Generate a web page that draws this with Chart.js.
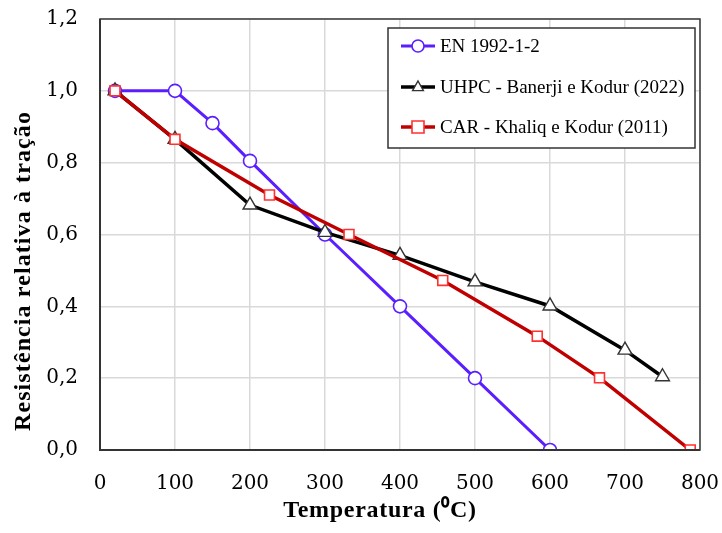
<!DOCTYPE html>
<html><head><meta charset="utf-8">
<script src="https://cdn.jsdelivr.net/npm/chart.js@4.4.1/dist/chart.umd.min.js"></script>
<style>html,body{margin:0;padding:0;background:#fff}#wrap{width:722px;height:533px}</style>
</head><body><div id="wrap"><canvas id="c" width="722" height="533"></canvas></div>
<script>
const xTicks = [0,100,200,300,400,500,600,700,800];
const yTicks = [0,0.2,0.4,0.6,0.8,1.0,1.2];
const xTitle = 'Temperatura (⁰C)';
const yTitle = 'Resistência relativa à tração';
const labelsSeries = ['EN 1992-1-2','UHPC - Banerji e Kodur (2022)','CAR - Khaliq e Kodur (2011)'];
const enX = [20,100,150,200,300,400,500,600];
const enY = [1.0,1.0,0.91,0.805,0.60,0.40,0.20,0.0];
const uhpcX = [20,100,200,300,400,500,600,700,750];
const uhpcY = [1.0,0.865,0.682,0.606,0.542,0.468,0.401,0.278,0.204];
const carX = [20,100,226,332,457,583,666,787];
const carY = [1.0,0.865,0.71,0.60,0.472,0.317,0.201,0.0];

const pts = (xs, ys) => xs.map((x,i)=>({x, y: ys[i]}));
const serif = "'Liberation Serif', serif";
const tickFont = "'DejaVu Serif', serif";

const datasets = [
  {label: labelsSeries[0], data: pts(enX,enY), borderColor:'#5a1eff', borderWidth:3,
   pointStyle:'circle', pointRadius:6.5, pointBorderWidth:1.6, pointBackgroundColor:'#fff', pointBorderColor:'#5a1eff', order:2},
  {label: labelsSeries[1], data: pts(uhpcX,uhpcY), borderColor:'#000', borderWidth:3.5,
   pointStyle:'triangle', pointRadius:8, pointBorderWidth:1.4, pointBackgroundColor:'#fff', pointBorderColor:'#333', order:1},
  {label: labelsSeries[2], data: pts(carX,carY), borderColor:'#c00000', borderWidth:3.5,
   pointStyle:'rect', pointRadius:7, pointBorderWidth:1.6, pointBackgroundColor:'#fff', pointBorderColor:'#ff3030', order:0}
];

const legendPlugin = {
  id:'boxLegend',
  afterDraw(chart){
    const ctx = chart.ctx;
    const bx=388, by=28, bw=307, bh=120;
    ctx.save();
    ctx.fillStyle='#fff';
    ctx.fillRect(bx,by,bw,bh);
    ctx.strokeStyle='#333'; ctx.lineWidth=1.5;
    ctx.strokeRect(bx,by,bw,bh);
    const rows=[46,87,127];
    chart.data.datasets.forEach((ds,i)=>{
      const y=rows[i];
      ctx.strokeStyle=ds.borderColor; ctx.lineWidth=ds.borderWidth;
      ctx.beginPath(); ctx.moveTo(401,y); ctx.lineTo(435,y); ctx.stroke();
      ctx.fillStyle='#fff'; ctx.strokeStyle=ds.pointBorderColor; ctx.lineWidth=ds.pointBorderWidth;
      const r=6, cx=418;
      ctx.beginPath();
      if(ds.pointStyle==='circle'){ctx.arc(cx,y,r,0,Math.PI*2);}
      else if(ds.pointStyle==='triangle'){ctx.moveTo(cx,y-r);ctx.lineTo(cx+r*0.9,y+r*0.6);ctx.lineTo(cx-r*0.9,y+r*0.6);ctx.closePath();}
      else {ctx.rect(cx-r,y-r,2*r,2*r);}
      ctx.fill(); ctx.stroke();
      ctx.fillStyle='#000'; ctx.font="19px "+serif; ctx.textBaseline='middle'; ctx.textAlign='left';
      ctx.fillText(ds.label,440,y+1);
    });
    ctx.restore();
  }
};

const framePlugin = {
  id:'frame',
  afterDatasetsDraw(chart){
    const {left,right,top,bottom}=chart.chartArea; const ctx=chart.ctx;
    ctx.save(); ctx.strokeStyle='#3a3a3a'; ctx.lineWidth=1.5;
    ctx.strokeRect(left,top,right-left,bottom-top);
    ctx.lineWidth=2; ctx.strokeStyle='#333';
    ctx.beginPath(); ctx.moveTo(left,top); ctx.lineTo(left,bottom); ctx.lineTo(right,bottom); ctx.stroke();
    ctx.restore();
  },
  afterDraw(chart){
    const ctx=chart.ctx;
    ctx.save();
    ctx.fillStyle='#000';
    ctx.font="bold 24px "+serif;
    ctx.textAlign='center'; ctx.textBaseline='middle';
    ctx.letterSpacing='0.7px';
    ctx.fillText(xTitle, 380, 511);
    ctx.translate(24, 271);
    ctx.rotate(-Math.PI/2);
    ctx.letterSpacing='1.1px';
    ctx.fillText(yTitle, 0, 0);
    ctx.restore();
  }
};

new Chart(document.getElementById('c'), {
  type:'line',
  data:{datasets},
  options:{
    responsive:false, animation:false,
    layout:{padding:{top:19,right:22,left:0,bottom:0}},
    plugins:{legend:{display:false}, tooltip:{enabled:false}},
    elements:{line:{tension:0}},
    scales:{
      x:{type:'linear', min:0, max:800,
        afterBuildTicks(s){s.ticks=xTicks.map(v=>({value:v}));},
        afterFit(s){s.height=83; s.paddingLeft=0; s.paddingRight=0;},
        grid:{color:'#d9d9d9', lineWidth:1.5, drawTicks:false},
        border:{display:false},
        ticks:{font:{family:tickFont,size:20}, color:'#000', padding:22, maxRotation:0, callback:v=>String(v)},
        title:{display:false, text:xTitle}
      },
      y:{type:'linear', min:0, max:1.2,
        afterBuildTicks(s){s.ticks=yTicks.map(v=>({value:v}));},
        afterFit(s){s.width=100; s.paddingTop=0; s.paddingBottom=0;},
        grid:{color:'#d9d9d9', lineWidth:1.5, drawTicks:false},
        border:{display:false},
        ticks:{font:{family:tickFont,size:20}, color:'#000', padding:22, callback:v=>v.toFixed(1).replace('.',',')},
        title:{display:false, text:yTitle}
      }
    }
  },
  plugins:[framePlugin, legendPlugin]
});
</script></body></html>
